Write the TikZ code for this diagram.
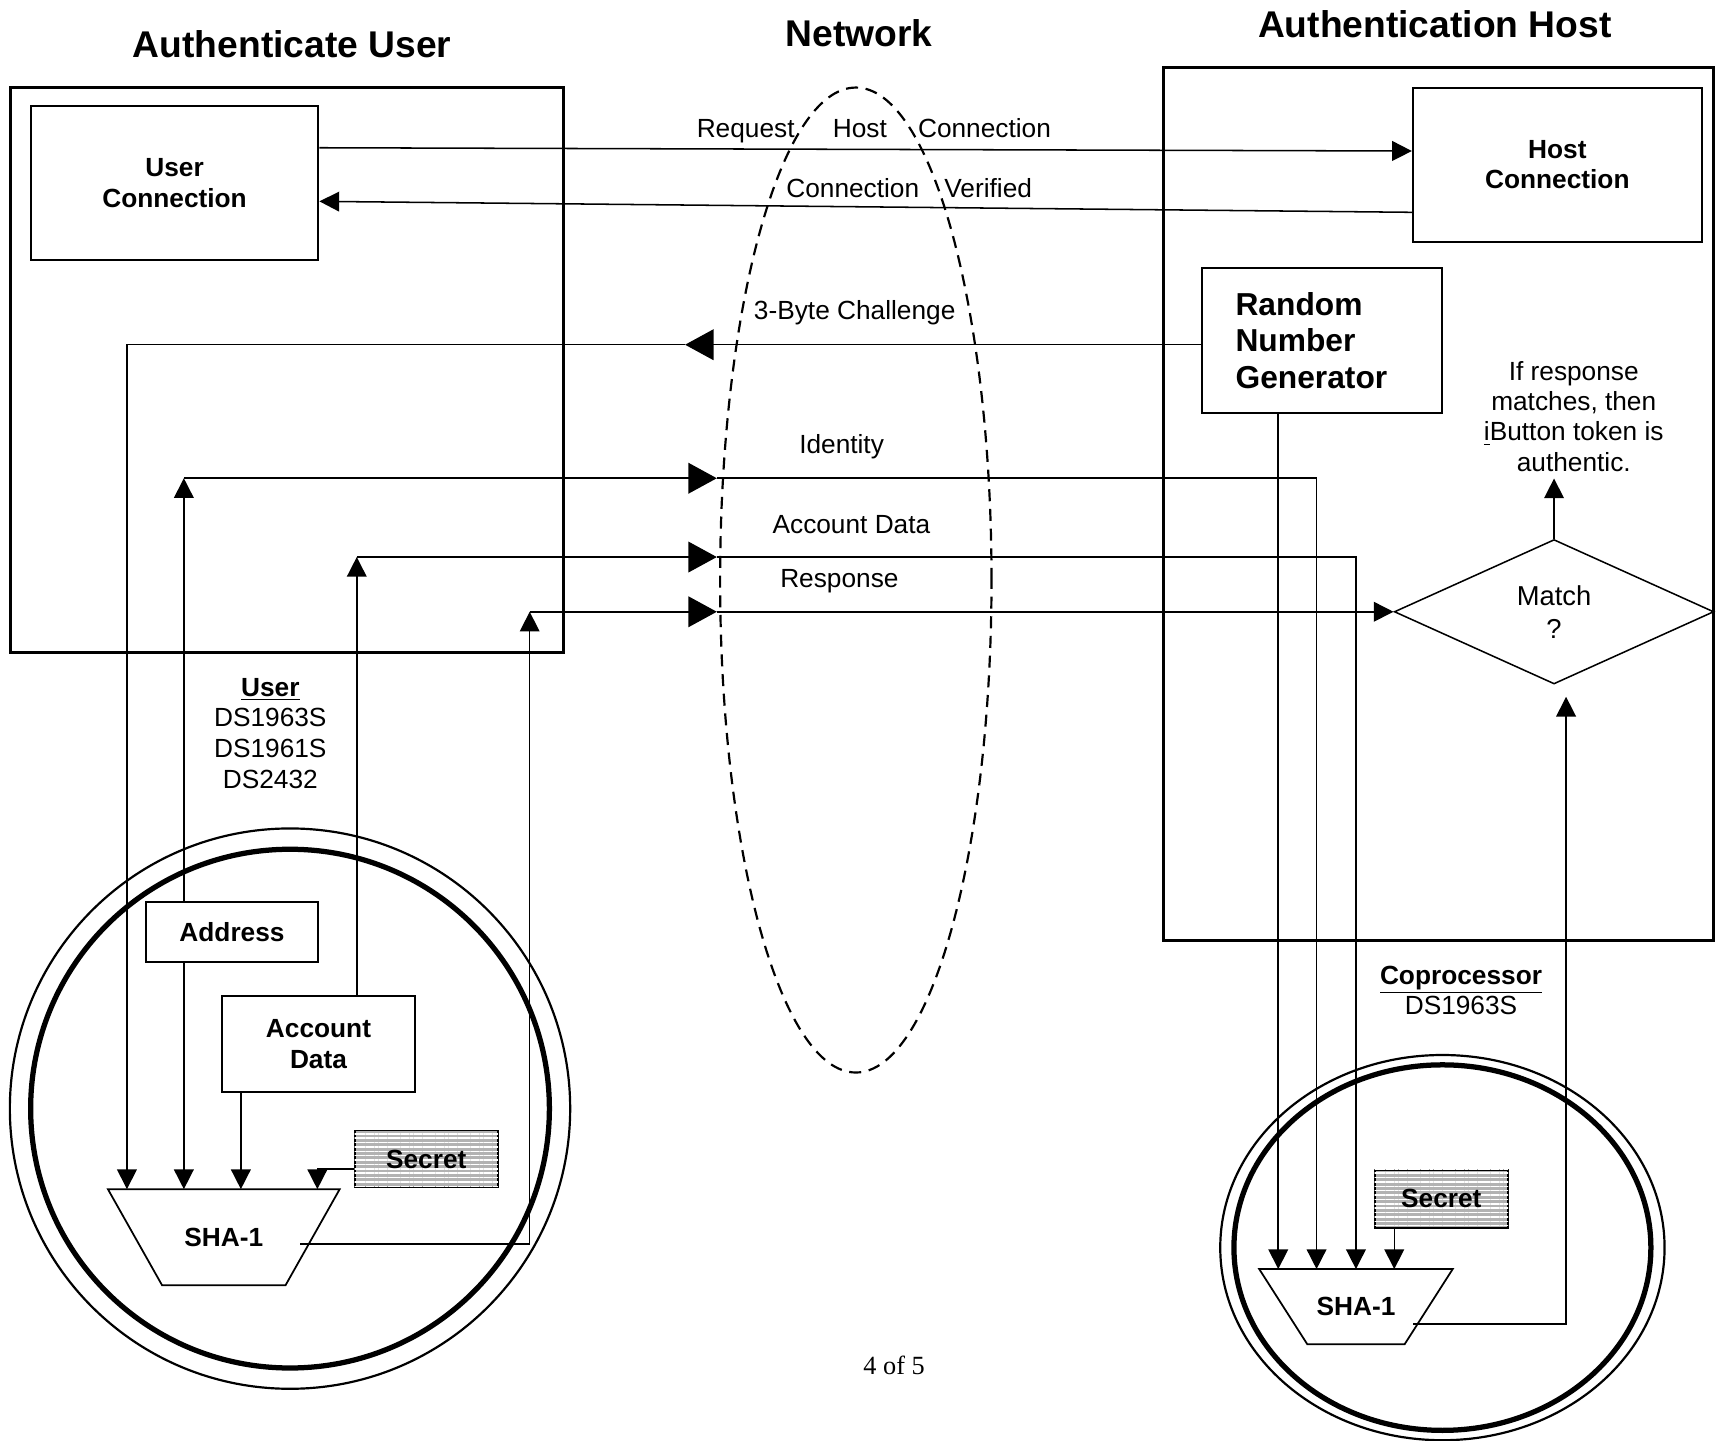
\documentclass[tikz,border=0pt]{standalone}
\usepackage{fontspec}
\setmainfont{Liberation Sans}
\newfontfamily\folio{Liberation Serif}
\usetikzlibrary{arrows.meta,shapes.geometric,patterns.meta}

\begin{document}
\begin{tikzpicture}[
  x=0.5pt, y=-0.5pt,
  every node/.style={font=\fontsize{12}{14}\selectfont, inner sep=0pt},
  heading/.style={font=\fontsize{17}{20}\selectfont\bfseries},
  panel/.style={draw, line width=1.4pt},
  blk/.style={draw, line width=0.9pt, align=center, font=\fontsize{12}{14}\selectfont\bfseries},
  secretblk/.style={blk, fill=gray!60, postaction={pattern={Lines[angle=0, distance=2pt, line width=0.7pt]}, pattern color=white}},
  shabox/.style={font=\fontsize{12}{14}\selectfont\bfseries},
  shaline/.style={line width=0.8pt, line join=miter},
  wire/.style={line width=0.7pt, -{Triangle[length=9pt, width=9pt]}},
  bigwire/.style={line width=0.7pt, -{Triangle[length=13pt, width=14pt]}},
  ring/.style={line width=1pt},
  thickring/.style={line width=2.4pt},
]
\useasboundingbox (0,0) rectangle (1568,1316);

% headings
\node[heading] (hUser) at (267,40) {Authenticate User};
\node[heading] (hNet) at (785,30) {Network};
\node[heading] (hHost) at (1311,22) {Authentication Host};

% the two sides and the network between them
\draw[panel] (10,80) rectangle (515,596);
\draw[panel] (1063,62) rectangle (1566,859);
\node[ellipse, draw, line width=1pt, dash pattern=on 5.5pt off 3.5pt,
  minimum width=124pt, minimum height=450pt] (net) at (782,530) {};

% iButton cans
\draw[ring] (265,1013) circle [radius=128pt];
\draw[thickring] (265,1013) circle [radius=118.5pt];
\draw[ring] (1318,1140) ellipse [x radius=101.5pt, y radius=88pt];
\draw[thickring] (1318,1140) ellipse [x radius=95.25pt, y radius=83.5pt];

% blocks
\node[blk, minimum width=131.5pt, minimum height=70.5pt] (ucon) at (159.5,167.5) {User\\Connection};
\node[blk, minimum width=132pt, minimum height=70.5pt] (hcon) at (1423,150.5) {Host\\Connection};
\node[blk, minimum width=110pt, minimum height=66pt, text width=79pt, align=left,
  font=\fontsize{14.5}{16.75}\selectfont\bfseries] (rng) at (1208,311) {Random\\Number\\Generator};
\node[blk, minimum width=79pt, minimum height=27.5pt] (addr) at (212,851.5) {Address};
\node[blk, minimum width=88pt, minimum height=44pt] (accd) at (291,954) {Account\\Data};
\node[secretblk, minimum width=65.5pt, minimum height=26pt] (secL) at (389.5,1059) {Secret};
\node[secretblk, minimum width=61pt, minimum height=26.5pt] (secR) at (1317,1095.5) {Secret};
\node[diamond, draw, line width=0.7pt, aspect=2.2, minimum width=146pt, minimum height=66pt,
  align=center, font=\fontsize{12.5}{15}\selectfont] (match) at (1420,559) {Match\\?};

% hash engines (funnel outline round the label)
\node[shabox, minimum width=105.5pt, minimum height=43.5pt] (shaL) at (204.5,1130.5) {SHA-1};
\draw[shaline] (shaL.north west) -- (shaL.north east) -- ([xshift=-24.75pt]shaL.south east)
  -- ([xshift=24.75pt]shaL.south west) -- cycle;
\node[shabox, minimum width=88pt, minimum height=34pt] (shaR) at (1239,1194) {SHA-1};
\draw[shaline] (shaR.north west) -- (shaR.north east) -- ([xshift=-22pt]shaR.south east)
  -- ([xshift=22pt]shaR.south west) -- cycle;

% free text
\node[align=center, font=\fontsize{12}{13.85}\selectfont] (note) at (1438,380.5)
  {If response\\matches, then\\\underline{i}Button token is\\authentic.};
\node[align=center] (uchips) at (247,670) {\textbf{\underline{User}}\\DS1963S\\DS1961S\\DS2432};
\node[align=center] (cchips) at (1335,905) {\textbf{\underline{Coprocessor}}\\DS1963S};
\node (pageno) at (817,1248) {\folio 4 of 5};

% message labels
\node (lReq) at (798.5,119) {Request\hspace{17.5pt}Host\hspace{14.25pt}Connection};
\node (lVer) at (830.75,172) {Connection\hspace{11.5pt}Verified};
\node (lChal) at (781,286) {3-Byte Challenge};
\node (lId) at (769,408) {Identity};
\node (lAcc) at (778,479) {Account Data};
\node (lRsp) at (767,531) {Response};

% connection handshake
\draw[wire] ([yshift=16.25pt]ucon.east) -- ([yshift=6.25pt]hcon.west);
\draw[wire] ([yshift=-21.75pt]hcon.west) -- ([yshift=-8.25pt]ucon.east);

% challenge
\coordinate (chTip) at (626,315);
\coordinate (chBend) at (116,315);
\draw[bigwire] ([yshift=-2pt]rng.west) -- (chTip);
\draw[wire] (chTip) -- (chBend) -- (chBend |- shaL.north);

% identity
\coordinate (idBend) at (168,437);
\coordinate (idTip) at (655,437);
\coordinate (idEnd) at (1203,437);
\draw[wire] (idBend |- addr.north) -- (idBend);
\draw[bigwire] (idBend) -- (idTip);
\draw[wire] (idTip) -- (idEnd) -- (idEnd |- shaR.north);
\draw[wire] (idBend |- addr.south) -- (idBend |- shaL.north);

% account data
\coordinate (acBend) at (326,509);
\coordinate (acTip) at (655,509);
\coordinate (acEnd) at (1239,509);
\draw[wire] (acBend |- accd.north) -- (acBend);
\draw[bigwire] (acBend) -- (acTip);
\draw[wire] (acTip) -- (acEnd) -- (acEnd |- shaR.north);
\draw[wire] ([xshift=9pt]accd.south west) -- ([xshift=9pt]accd.south west |- shaL.north);

% secrets into the hash engines
\draw[wire] ([yshift=-4.5pt]secL.west) -| ([xshift=42.75pt]shaL.north);
\draw[wire] ([xshift=-21.5pt]secR.south) -- ([xshift=-21.5pt]secR.south |- shaR.north);
\draw[wire] ([xshift=-20pt]rng.south) -- ([xshift=-20pt]rng.south |- shaR.north);

% response and compare
\coordinate (rsBend) at (484,559);
\coordinate (rsTip) at (655,559);
\draw[wire] ([xshift=-18pt,yshift=-3pt]shaL.east) -| (rsBend);
\draw[bigwire] (rsBend) -- (rsTip);
\draw[wire] (rsTip) -- (match.west);
\draw[wire] ([xshift=-18pt,yshift=-8pt]shaR.east) -| ([xshift=5.5pt,yshift=-5.5pt]match.south);
\draw[wire] (match.north) -- ([yshift=-3pt]match.north |- note.south);
\end{tikzpicture}
\end{document}
